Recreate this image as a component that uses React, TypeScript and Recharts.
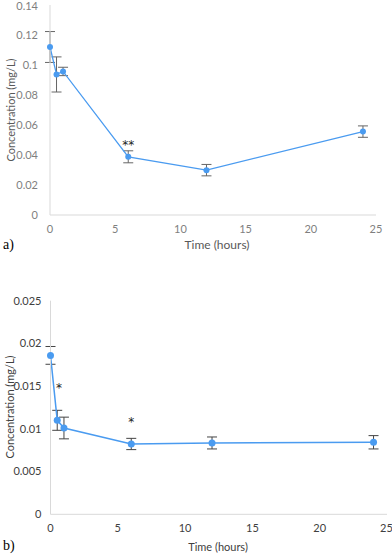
import React from 'react';
import { LineChart, Line, XAxis, YAxis, ErrorBar, ReferenceDot } from 'recharts';

const hours = [0, 0.5, 1, 6, 12, 24];
const concA = [0.112, 0.0937, 0.0957, 0.0388, 0.0299, 0.0556];
const errA = [0.0103, 0.0117, 0.0028, 0.004, 0.0038, 0.0038];
const concB = [0.0186, 0.011, 0.0101, 0.00823, 0.00835, 0.00843];
const errB = [0.00104, 0.00117, 0.00127, 0.00066, 0.0007, 0.00078];
const xTicks = [0, 5, 10, 15, 20, 25];
const yTicksA = [0, 0.02, 0.04, 0.06, 0.08, 0.1, 0.12, 0.14];
const yTicksB = [0, 0.005, 0.01, 0.015, 0.02, 0.025];
const marksA = [{ x: 6, y: 0.0478, text: '**' }];
const marksB = [
  { x: 0.63, y: 0.015, text: '*' },
  { x: 6, y: 0.011, text: '*' },
];

const dataA = hours.map((t, i) => ({ t, c: concA[i], e: errA[i] }));
const dataB = hours.map((t, i) => ({ t, c: concB[i], e: errB[i] }));

const LINE = '#4a9bf0';
const FONT = 'Lato, "Open Sans", sans-serif';
const fmt = (v: number) => String(Number(v.toFixed(4)));

const Star = (text: string) => (props: any) => (
  <text x={props.cx} y={props.cy} dy={6} textAnchor="middle" fontSize={12} fontFamily="DejaVu Sans" fill="#222">
    {text}
  </text>
);

const abs = (s: React.CSSProperties): React.CSSProperties => ({ position: 'absolute', ...s });

export default function App() {
  return (
    <div style={{ position: 'absolute', left: 0, top: 0, width: 392, height: 557, background: '#fff', fontFamily: FONT }}>
      <div style={abs({ left: 0, top: 0 })}>
        <LineChart width={392} height={260} data={dataA} margin={{ top: 5, right: 16, bottom: 15, left: 0 }}>
          <XAxis
            dataKey="t"
            type="number"
            domain={[0, 25]}
            ticks={xTicks}
            tickLine={false}
            tickMargin={4}
            height={30}
            stroke="#d9d9d9"
            tick={{ fill: '#7f7f7f', fontSize: 11, fontFamily: FONT }}
          />
          <YAxis
            type="number"
            domain={[0, 0.14]}
            ticks={yTicksA}
            tickFormatter={fmt}
            tickLine={false}
            tickMargin={6}
            width={50}
            stroke="#d9d9d9"
            tick={{ fill: '#7f7f7f', fontSize: 11, fontFamily: FONT }}
          />
          <Line dataKey="c" stroke={LINE} strokeWidth={1.3} dot={{ r: 3, fill: LINE, stroke: LINE, strokeWidth: 0 }} isAnimationActive={false}>
            <ErrorBar dataKey="e" width={5} stroke="#666" strokeWidth={1} direction="y" />
          </Line>
          {marksA.map((m, i) => (
            <ReferenceDot key={i} x={m.x} y={m.y} r={0} shape={Star(m.text)} />
          ))}
        </LineChart>
      </div>
      <div style={abs({ left: 0, top: 270 })}>
        <LineChart width={392} height={287} data={dataB} margin={{ top: 30.7, right: 5, bottom: 12.7, left: 0 }}>
          <XAxis
            dataKey="t"
            type="number"
            domain={[0, 25]}
            ticks={xTicks}
            tickLine={false}
            tickMargin={4}
            height={30}
            stroke="#d9d9d9"
            tick={{ fill: '#404040', fontSize: 11, fontFamily: FONT }}
          />
          <YAxis
            type="number"
            domain={[0, 0.025]}
            ticks={yTicksB}
            tickFormatter={fmt}
            tickLine={false}
            tickMargin={3}
            width={50.5}
            stroke="#d9d9d9"
            tick={{ fill: '#404040', fontSize: 11, fontFamily: FONT }}
          />
          <Line dataKey="c" stroke={LINE} strokeWidth={1.5} dot={{ r: 3.5, fill: LINE, stroke: LINE, strokeWidth: 0 }} isAnimationActive={false}>
            <ErrorBar dataKey="e" width={5} stroke="#444" strokeWidth={1} direction="y" />
          </Line>
          {marksB.map((m, i) => (
            <ReferenceDot key={i} x={m.x} y={m.y} r={0} shape={Star(m.text)} />
          ))}
        </LineChart>
      </div>
      <div style={abs({ left: 10, top: 110, transform: 'translate(-50%,-50%) rotate(-90deg)', whiteSpace: 'nowrap', fontSize: 11, color: '#595959' })}>
        Concentration (mg/L)
      </div>
      <div style={abs({ left: 217, top: 244, transform: 'translate(-50%,-50%)', whiteSpace: 'nowrap', fontSize: 12, color: '#595959' })}>
        Time (hours)
      </div>
      <div style={abs({ left: 9, top: 407, transform: 'translate(-50%,-50%) rotate(-90deg)', whiteSpace: 'nowrap', fontSize: 11, color: '#404040' })}>
        Concentration (mg/L)
      </div>
      <div style={abs({ left: 218, top: 546, transform: 'translate(-50%,-50%)', whiteSpace: 'nowrap', fontSize: 11, color: '#404040' })}>
        Time (hours)
      </div>
      <div style={abs({ left: 3, top: 245, transform: 'translateY(-50%)', fontFamily: '"Liberation Serif", serif', fontSize: 14, color: '#000' })}>
        a)
      </div>
      <div style={abs({ left: 3, top: 546, transform: 'translateY(-50%)', fontFamily: '"Liberation Serif", serif', fontSize: 14, color: '#000' })}>
        b)
      </div>
    </div>
  );
}
